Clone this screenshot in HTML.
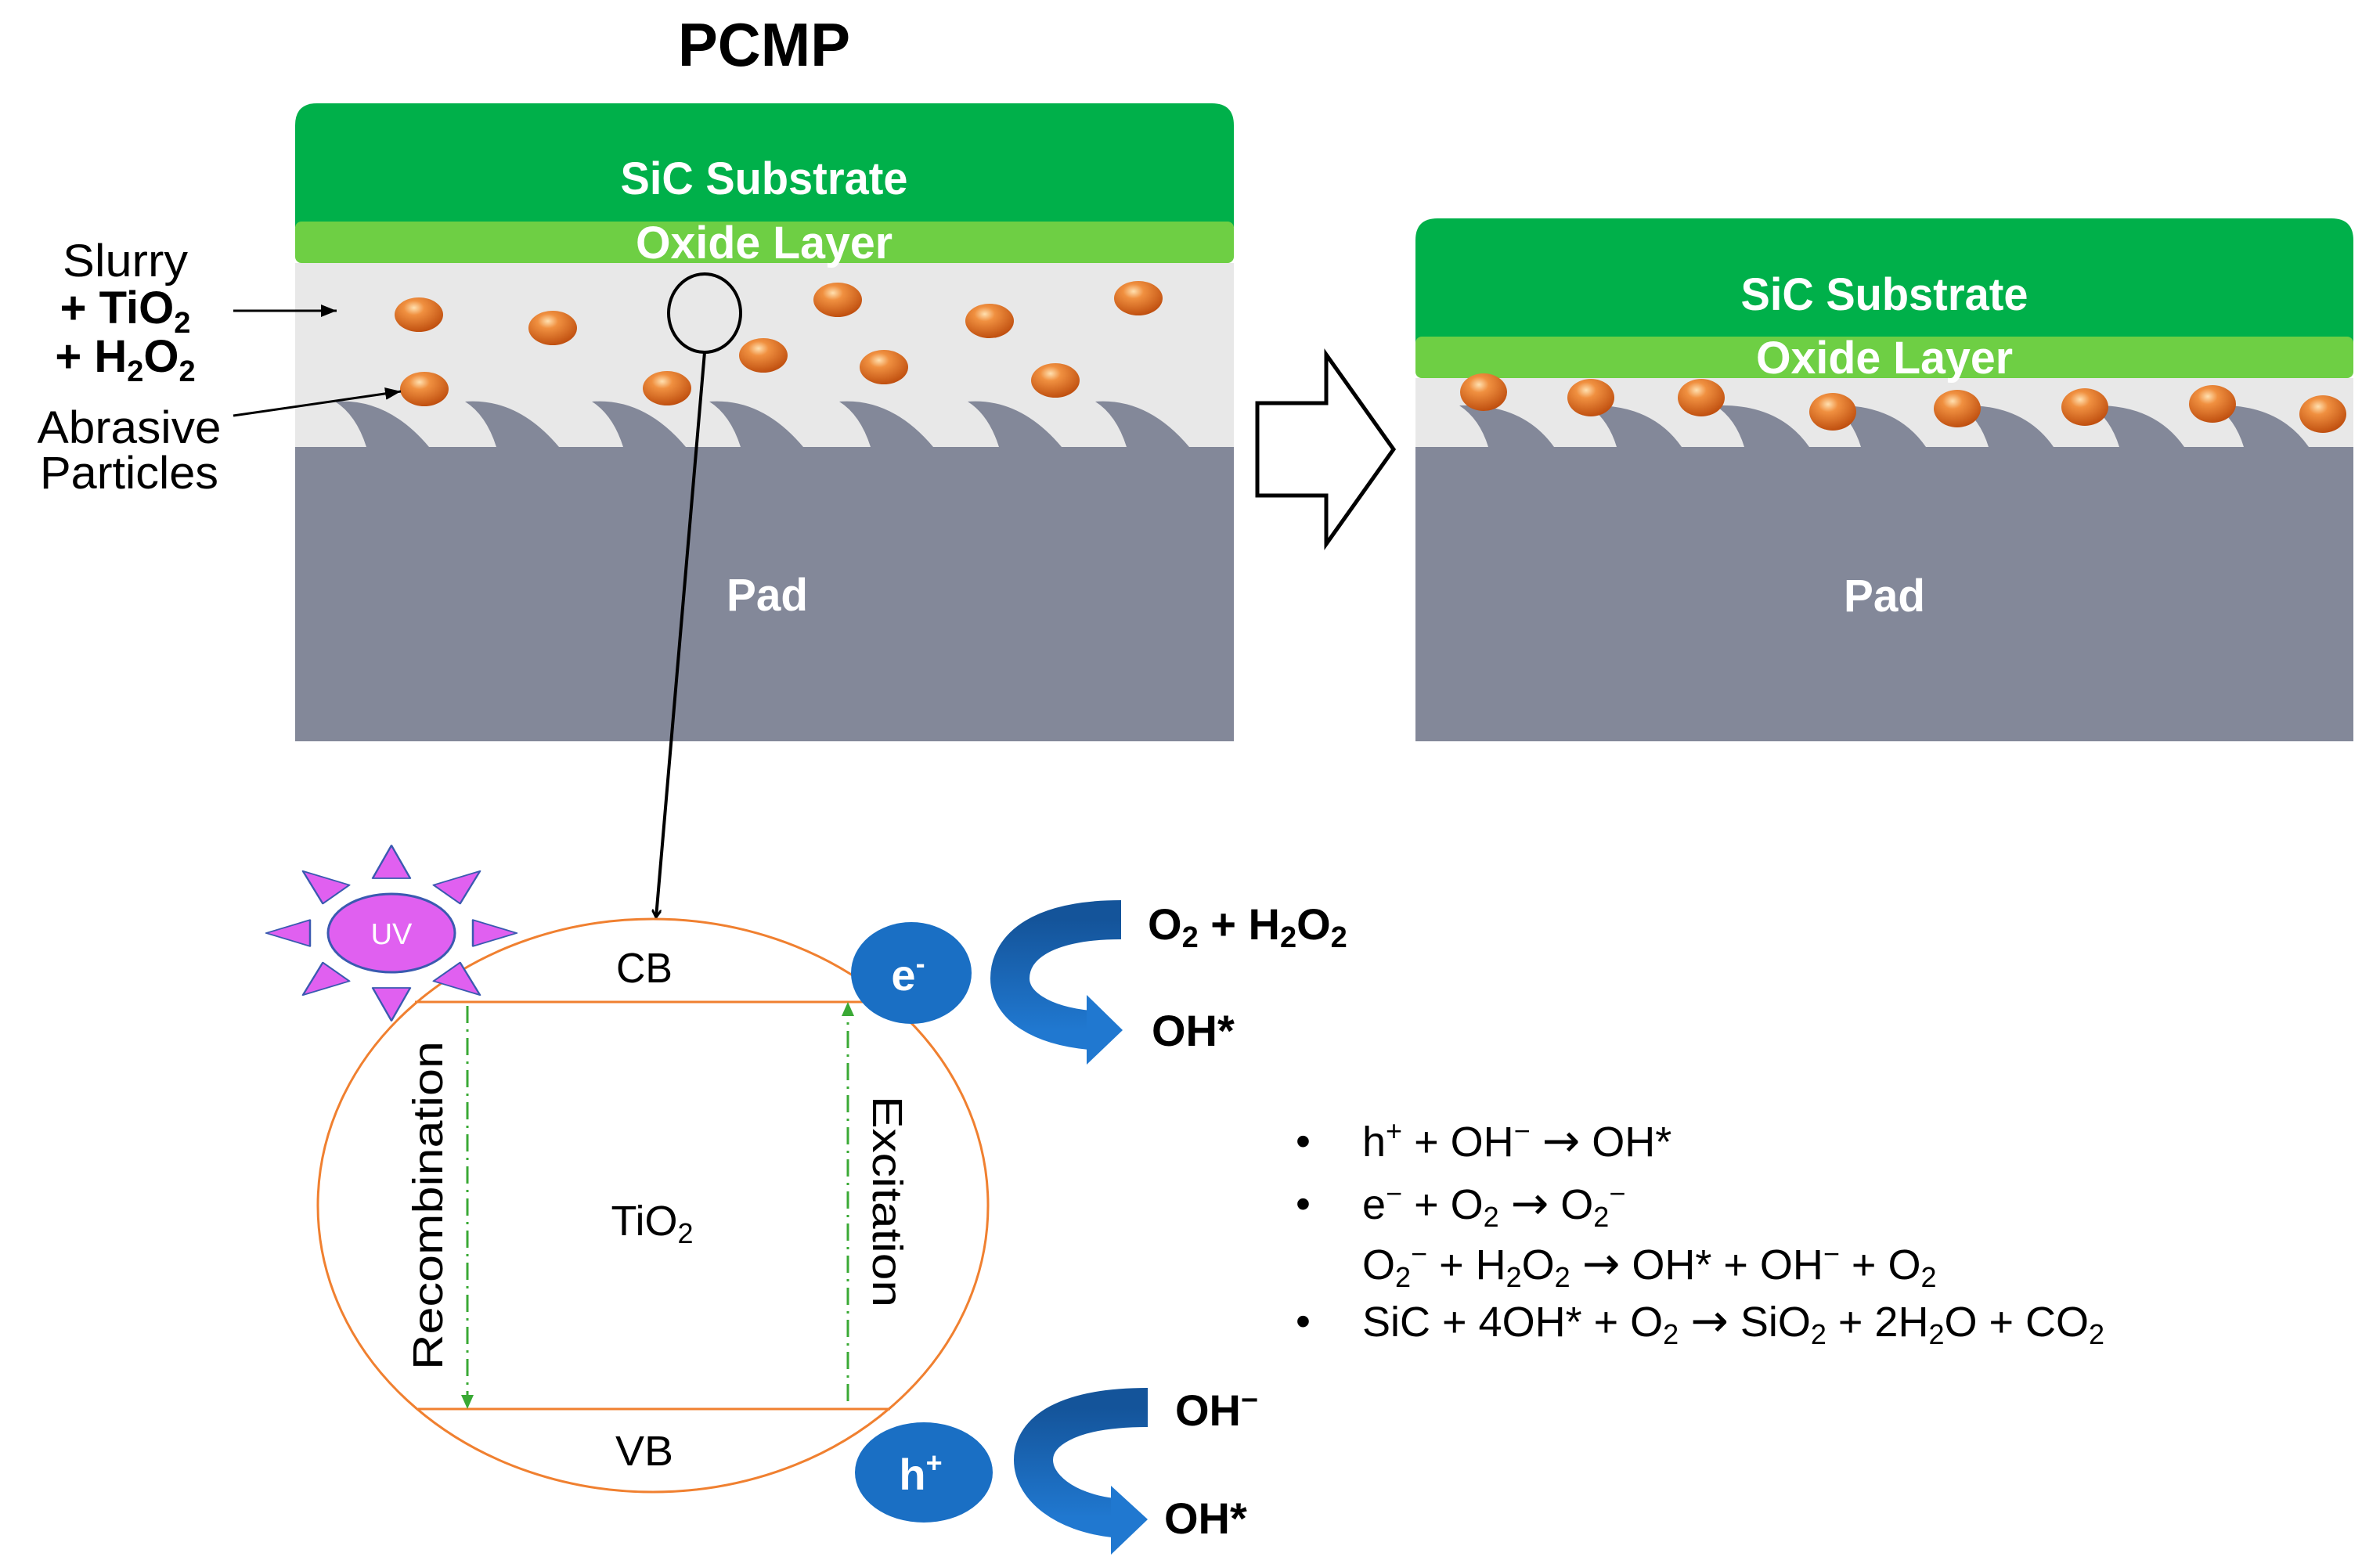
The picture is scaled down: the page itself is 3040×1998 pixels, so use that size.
<!DOCTYPE html>
<html><head><meta charset="utf-8"><style>html,body{margin:0;padding:0;background:#fff}svg{display:block}</style></head><body>
<svg width="3040" height="1998" viewBox="0 0 3040 1998" xmlns="http://www.w3.org/2000/svg" font-family="Liberation Sans, sans-serif">
<defs>
<radialGradient id="pg" cx="0.4" cy="0.3" r="0.7"><stop offset="0" stop-color="#ffe0b0"/><stop offset="0.3" stop-color="#f09040"/><stop offset="1" stop-color="#c05010"/></radialGradient>
<linearGradient id="bg" x1="0" y1="0" x2="0" y2="1"><stop offset="0" stop-color="#14549a"/><stop offset="1" stop-color="#2078d0"/></linearGradient>
<marker id="ah" markerWidth="12" markerHeight="12" refX="10" refY="6" orient="auto" markerUnits="userSpaceOnUse"><path d="M0,0 L10,6 L0,12" fill="none" stroke="#000" stroke-width="3"/></marker>
<marker id="ahf" markerWidth="22" markerHeight="16" refX="20" refY="8" orient="auto" markerUnits="userSpaceOnUse"><path d="M0,0 L20,8 L0,16 Z" fill="#000"/></marker>
</defs>

<text x="976" y="84" font-size="78" font-weight="bold" text-anchor="middle" textLength="220" lengthAdjust="spacingAndGlyphs">PCMP</text>

<!-- left panel -->
<path d="M377,160 Q377,132 405,132 L1548,132 Q1576,132 1576,160 L1576,290 L377,290 Z" fill="#00b04a"/>
<rect x="377" y="283" width="1199" height="53" rx="8" fill="#6ecf44"/>
<rect x="377" y="336" width="1199" height="235" fill="#e8e8e8"/>
<rect x="377" y="571" width="1199" height="376" fill="#838899"/>
<g fill="#838899">
<path d="M428,513 Q495,508 548,571 L468,571 Q455,530 428,513 Z"/>
<path d="M594,513 Q661,508 714,571 L634,571 Q621,530 594,513 Z"/>
<path d="M756,513 Q823,508 876,571 L796,571 Q783,530 756,513 Z"/>
<path d="M906,513 Q973,508 1026,571 L946,571 Q933,530 906,513 Z"/>
<path d="M1072,513 Q1139,508 1192,571 L1112,571 Q1099,530 1072,513 Z"/>
<path d="M1236,513 Q1303,508 1356,571 L1276,571 Q1263,530 1236,513 Z"/>
<path d="M1399,513 Q1466,508 1519,571 L1439,571 Q1426,530 1399,513 Z"/>
</g>
<g fill="url(#pg)">
<ellipse cx="535" cy="402" rx="31" ry="22"/><ellipse cx="706" cy="419" rx="31" ry="22"/>
<ellipse cx="1070" cy="383" rx="31" ry="22"/><ellipse cx="1264" cy="410" rx="31" ry="22"/>
<ellipse cx="1454" cy="381" rx="31" ry="22"/><ellipse cx="975" cy="454" rx="31" ry="22"/>
<ellipse cx="1129" cy="469" rx="31" ry="22"/><ellipse cx="1348" cy="486" rx="31" ry="22"/>
<ellipse cx="542" cy="497" rx="31" ry="22"/><ellipse cx="852" cy="496" rx="31" ry="22"/>
</g>
<text x="976" y="248" font-size="58" font-weight="bold" fill="#fff" text-anchor="middle" textLength="367" lengthAdjust="spacingAndGlyphs">SiC Substrate</text>
<text x="976" y="330" font-size="58" font-weight="bold" fill="#fff" text-anchor="middle" textLength="328" lengthAdjust="spacingAndGlyphs">Oxide Layer</text>
<text x="980" y="780" font-size="58" font-weight="bold" fill="#fff" text-anchor="middle" textLength="104" lengthAdjust="spacingAndGlyphs">Pad</text>
<ellipse cx="900" cy="400" rx="46" ry="50" fill="none" stroke="#000" stroke-width="4"/>
<line x1="900" y1="450" x2="838" y2="1172" stroke="#000" stroke-width="4" marker-end="url(#ah)"/>

<!-- labels -->
<g font-size="58">
<text x="160" y="353" text-anchor="middle" textLength="160" lengthAdjust="spacingAndGlyphs">Slurry</text>
<text x="160" y="413" text-anchor="middle" font-weight="bold">+ TiO<tspan font-size="38" dy="12">2</tspan></text>
<text x="160" y="475" text-anchor="middle" font-weight="bold">+ H<tspan font-size="38" dy="12">2</tspan><tspan dy="-12">O</tspan><tspan font-size="38" dy="12">2</tspan></text>
<text x="165" y="566" text-anchor="middle" textLength="235" lengthAdjust="spacingAndGlyphs">Abrasive</text>
<text x="165" y="624" text-anchor="middle" textLength="228" lengthAdjust="spacingAndGlyphs">Particles</text>
</g>
<line x1="298" y1="397" x2="430" y2="397" stroke="#000" stroke-width="3" marker-end="url(#ahf)"/>
<line x1="298" y1="531" x2="512" y2="500" stroke="#000" stroke-width="3" marker-end="url(#ahf)"/>

<!-- big arrow -->
<polygon points="1606,515 1694,515 1694,453 1780,574 1694,695 1694,633 1606,633" fill="#fff" stroke="#000" stroke-width="5"/>

<!-- right panel -->
<path d="M1808,307 Q1808,279 1836,279 L2978,279 Q3006,279 3006,307 L3006,440 L1808,440 Z" fill="#00b04a"/>
<rect x="1808" y="430" width="1198" height="53" rx="8" fill="#6ecf44"/>
<rect x="1808" y="483" width="1198" height="88" fill="#e8e8e8"/>
<rect x="1808" y="571" width="1198" height="376" fill="#838899"/>
<g fill="#838899">
<path d="M1864,518 Q1945,515 1985,571 L1901,571 Q1890,535 1864,518 Z"/>
<path d="M2028,518 Q2109,515 2148,571 L2065,571 Q2054,535 2028,518 Z"/>
<path d="M2191,518 Q2272,515 2311,571 L2228,571 Q2217,535 2191,518 Z"/>
<path d="M2340,518 Q2421,515 2460,571 L2377,571 Q2366,535 2340,518 Z"/>
<path d="M2503,518 Q2584,515 2623,571 L2540,571 Q2529,535 2503,518 Z"/>
<path d="M2670,518 Q2751,515 2790,571 L2707,571 Q2696,535 2670,518 Z"/>
<path d="M2829,518 Q2910,515 2949,571 L2866,571 Q2855,535 2829,518 Z"/>
</g>
<g fill="url(#pg)">
<ellipse cx="1895" cy="501" rx="30" ry="24"/><ellipse cx="2032" cy="508" rx="30" ry="24"/>
<ellipse cx="2173" cy="508" rx="30" ry="24"/><ellipse cx="2341" cy="526" rx="30" ry="24"/>
<ellipse cx="2500" cy="522" rx="30" ry="24"/><ellipse cx="2663" cy="520" rx="30" ry="24"/>
<ellipse cx="2826" cy="516" rx="30" ry="24"/><ellipse cx="2967" cy="529" rx="30" ry="24"/>
</g>
<text x="2407" y="396" font-size="58" font-weight="bold" fill="#fff" text-anchor="middle" textLength="367" lengthAdjust="spacingAndGlyphs">SiC Substrate</text>
<text x="2407" y="477" font-size="58" font-weight="bold" fill="#fff" text-anchor="middle" textLength="328" lengthAdjust="spacingAndGlyphs">Oxide Layer</text>
<text x="2407" y="781" font-size="58" font-weight="bold" fill="#fff" text-anchor="middle" textLength="104" lengthAdjust="spacingAndGlyphs">Pad</text>

<!-- TiO2 ellipse -->
<ellipse cx="834" cy="1540" rx="428" ry="366" fill="none" stroke="#f08030" stroke-width="3"/>
<line x1="530" y1="1280" x2="1102" y2="1280" stroke="#f08030" stroke-width="3"/>
<line x1="534" y1="1800" x2="1137" y2="1800" stroke="#f08030" stroke-width="3"/>
<line x1="597" y1="1285" x2="597" y2="1784" stroke="#3aa935" stroke-width="3" stroke-dasharray="22,8,3,8"/>
<polygon points="589,1782 605,1782 597,1800" fill="#3aa935"/>
<line x1="1083" y1="1790" x2="1083" y2="1296" stroke="#3aa935" stroke-width="3" stroke-dasharray="22,8,3,8"/>
<polygon points="1075,1298 1091,1298 1083,1280" fill="#3aa935"/>
<g font-size="54">
<text x="823" y="1255" text-anchor="middle" textLength="72" lengthAdjust="spacingAndGlyphs">CB</text>
<text x="823" y="1872" text-anchor="middle" textLength="74" lengthAdjust="spacingAndGlyphs">VB</text>
<text x="833" y="1578" text-anchor="middle">TiO<tspan font-size="36" dy="10">2</tspan></text>
<text transform="translate(565,1540) rotate(-90)" text-anchor="middle" textLength="420" lengthAdjust="spacingAndGlyphs">Recombination</text>
<text transform="translate(1115,1535) rotate(90)" text-anchor="middle" textLength="270" lengthAdjust="spacingAndGlyphs">Excitation</text>
</g>

<!-- UV sun -->
<g transform="translate(500,1192) scale(1,0.7)" fill="#e060f0" stroke="#3a5ab0" stroke-width="2.5" stroke-linejoin="round">
<polygon transform="rotate(0)" points="104,-24 104,24 160,0"/>
<polygon transform="rotate(45)" points="100,-24 100,24 160,0"/>
<polygon transform="rotate(90)" points="100,-24 100,24 160,0"/>
<polygon transform="rotate(135)" points="100,-24 100,24 160,0"/>
<polygon transform="rotate(180)" points="104,-24 104,24 160,0"/>
<polygon transform="rotate(225)" points="100,-24 100,24 160,0"/>
<polygon transform="rotate(270)" points="100,-24 100,24 160,0"/>
<polygon transform="rotate(315)" points="100,-24 100,24 160,0"/>
</g>
<ellipse cx="500" cy="1192" rx="81" ry="50" fill="#e060f0" stroke="#3a5ab0" stroke-width="3"/>
<text x="500" y="1206" font-size="38" fill="#fff" text-anchor="middle">UV</text>

<!-- e- / h+ -->
<ellipse cx="1164" cy="1243" rx="77" ry="65" fill="#1a6fc4"/>
<text x="1160" y="1265" font-size="56" font-weight="bold" fill="#fff" text-anchor="middle">e<tspan font-size="36" dy="-22">-</tspan></text>
<ellipse cx="1180" cy="1881" rx="88" ry="64" fill="#1a6fc4"/>
<text x="1176" y="1903" font-size="56" font-weight="bold" fill="#fff" text-anchor="middle">h<tspan font-size="36" dy="-22">+</tspan></text>

<!-- curved arrows -->
<path d="M1432,1175 C1330,1175 1290,1210 1290,1250 C1290,1285 1330,1310 1392,1316" fill="none" stroke="url(#bg)" stroke-width="50"/>
<polygon points="1388,1271 1434,1316 1388,1360" fill="#2078d0"/>
<path d="M1466,1798 C1360,1798 1320,1830 1320,1865 C1320,1900 1360,1932 1422,1939" fill="none" stroke="url(#bg)" stroke-width="50"/>
<polygon points="1419,1898 1466,1941 1419,1986" fill="#2078d0"/>

<g font-size="56" font-weight="bold">
<text x="1466" y="1200">O<tspan font-size="38" dy="10">2</tspan><tspan dy="-10"> + H</tspan><tspan font-size="38" dy="10">2</tspan><tspan dy="-10">O</tspan><tspan font-size="38" dy="10">2</tspan></text>
<text x="1471" y="1336">OH*</text>
<text x="1501" y="1821">OH<tspan font-size="38" dy="-20">−</tspan></text>
<text x="1487" y="1959">OH*</text>
</g>

<!-- equations -->
<g font-size="54">
<text x="1655" y="1476">•</text>
<text x="1740" y="1477">h<tspan font-size="36" dy="-20">+</tspan><tspan dy="20"> + OH</tspan><tspan font-size="36" dy="-20">−</tspan><tspan dy="20"> </tspan><tspan font-family="DejaVu Sans" font-size="58">→</tspan><tspan> OH*</tspan></text>
<text x="1655" y="1556">•</text>
<text x="1740" y="1557">e<tspan font-size="36" dy="-20">−</tspan><tspan dy="20"> + O</tspan><tspan font-size="36" dy="10">2</tspan><tspan dy="-10"> </tspan><tspan font-family="DejaVu Sans" font-size="58">→</tspan><tspan> O</tspan><tspan font-size="36" dy="10">2</tspan><tspan font-size="36" dy="-30">−</tspan></text>
<text x="1740" y="1634">O<tspan font-size="36" dy="10">2</tspan><tspan font-size="36" dy="-30">−</tspan><tspan dy="20"> + H</tspan><tspan font-size="36" dy="10">2</tspan><tspan dy="-10">O</tspan><tspan font-size="36" dy="10">2</tspan><tspan dy="-10"> </tspan><tspan font-family="DejaVu Sans" font-size="58">→</tspan><tspan> OH* + OH</tspan><tspan font-size="36" dy="-20">−</tspan><tspan dy="20"> + O</tspan><tspan font-size="36" dy="10">2</tspan></text>
<text x="1655" y="1706">•</text>
<text x="1740" y="1707">SiC + 4OH* + O<tspan font-size="36" dy="10">2</tspan><tspan dy="-10"> </tspan><tspan font-family="DejaVu Sans" font-size="58">→</tspan><tspan> SiO</tspan><tspan font-size="36" dy="10">2</tspan><tspan dy="-10"> + 2H</tspan><tspan font-size="36" dy="10">2</tspan><tspan dy="-10">O + CO</tspan><tspan font-size="36" dy="10">2</tspan></text>
</g>
</svg>
</body></html>
